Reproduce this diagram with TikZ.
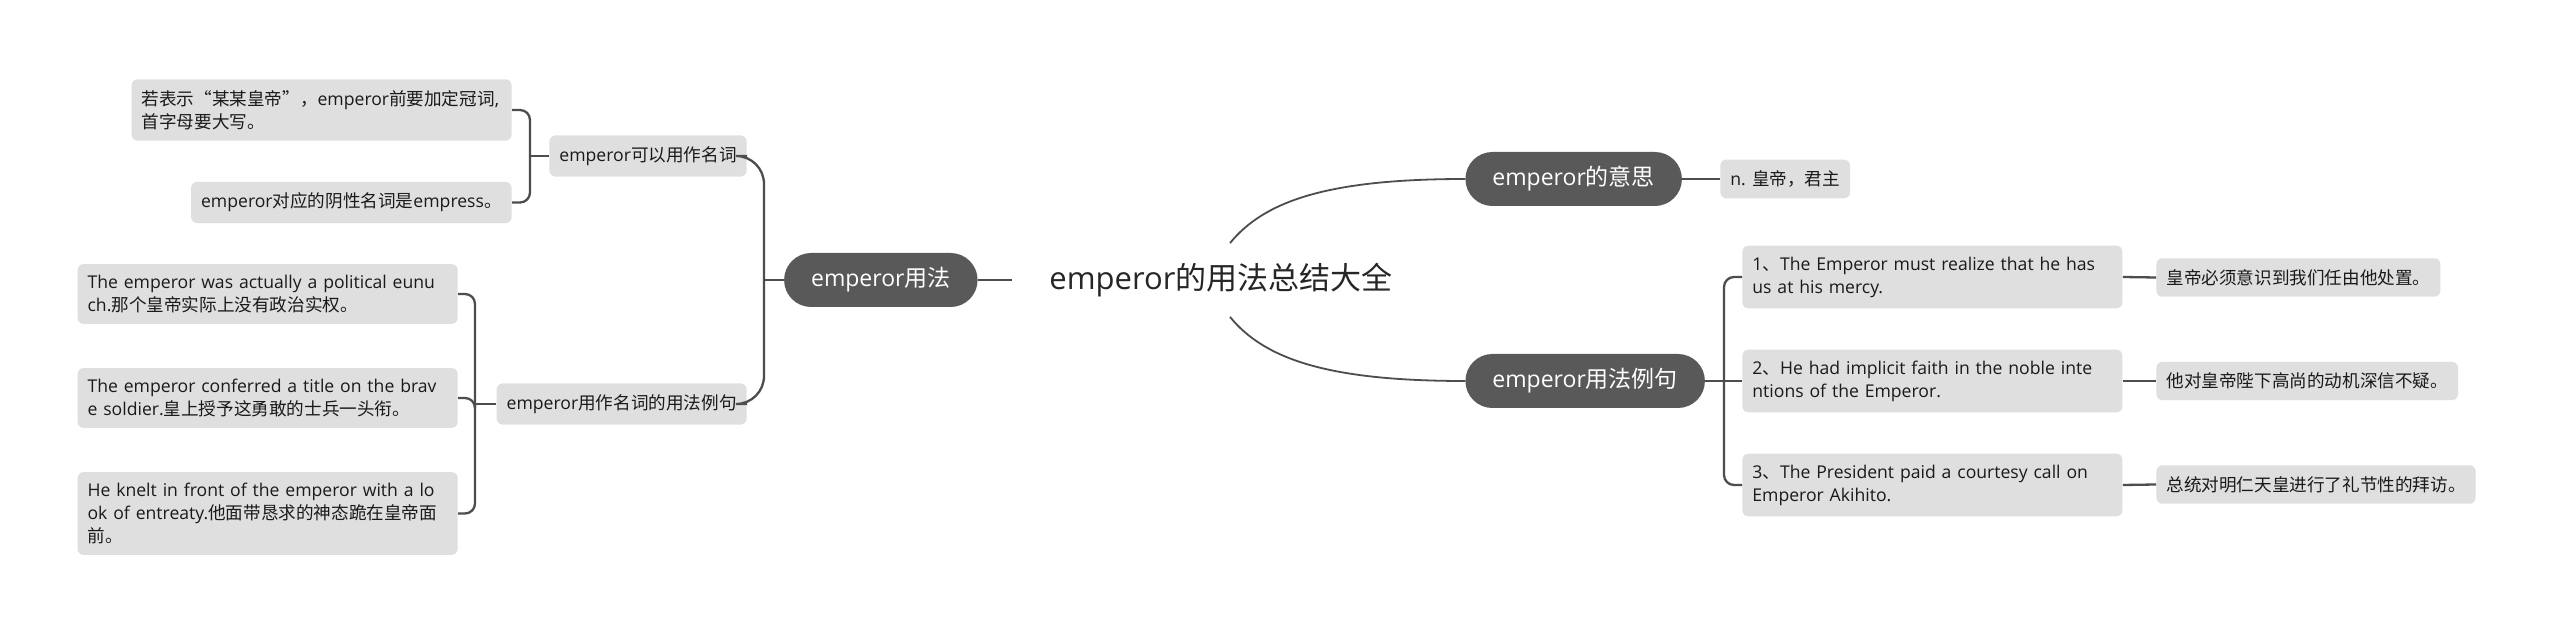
\documentclass[tikz,border=0pt]{standalone}
\usepackage{fontspec}
\setmainfont{Open Sans}
\newfontfamily\zhfont{Noto Sans CJK SC}
\newcommand{\zh}[1]{{\zhfont #1}}

\definecolor{mapLeafFill}{RGB}{223,223,223}
\definecolor{mapTopicFill}{RGB}{89,89,89}
\definecolor{mapLine}{RGB}{77,77,77}
\definecolor{mapText}{RGB}{26,26,26}
\definecolor{mapTitle}{RGB}{38,38,38}

\begin{document}
\begin{tikzpicture}[x=.5pt,y=-.5pt,
      title/.style={font=\fontsize{15.5}{18}\selectfont, text=mapTitle,
        inner xsep=18.5pt, minimum height=36.5pt},
      topic/.style={font=\fontsize{11.5}{14}\selectfont, text=white,
        fill=mapTopicFill, rounded corners=13.5pt, inner xsep=13.5pt,
        minimum height=27pt},
      leaf/.style={font=\fontsize{8.8}{11.5}\selectfont, text=mapText,
        fill=mapLeafFill, rounded corners=3pt, inner xsep=5pt,
        inner ysep=5.5pt},
      note/.style={leaf, text width=180pt, align=left},
      link/.style={draw=mapLine, line width=1.15pt},
      curve/.style={draw=mapLine, line width=.9pt},
      bracket/.style={link, rounded corners=5pt}]
      \useasboundingbox (0,0) rectangle (2560,635);
      \fill[white] (0,0) rectangle (2560,635);

      % centre
      \node[title] (root) at (1221,280) {emperor\zh{的用法总结大全}};

      % left branch
      \node[topic, anchor=east] (usage) at (978,280) {emperor\zh{用法}};
      \node[leaf, anchor=east] (noun) at (747,156) {emperor\zh{可以用作名词}};
      \node[leaf, anchor=east] (nounex) at (747,404)
        {emperor\zh{用作名词的用法例句}};

      \node[note, anchor=east] (article) at (512,110)
        {\zh{若表示“某某皇帝”，}emperor\zh{前要加定冠词},\\
         \zh{首字母要大写。}};
      \node[leaf, anchor=east] (feminine) at (512,202.5)
        {emperor\zh{对应的阴性名词是}empress\zh{。}};

      \node[note, anchor=east] (eunuch) at (458,294)
        {The emperor was actually a political eunu\\
         ch.\zh{那个皇帝实际上没有政治实权。}};
      \node[note, anchor=east] (soldier) at (458,398)
        {The emperor conferred a title on the brav\\
         e soldier.\zh{皇上授予这勇敢的士兵一头衔。}};
      \node[note, anchor=east] (knelt) at (458,513.5)
        {He knelt in front of the emperor with a lo\\
         ok of entreaty.\zh{他面带恳求的神态跪在皇帝面}\\
         \zh{前。}};

      \draw[link] (root.west) -- (usage.east);
      \coordinate (usageJoin) at (764,280);
      \draw[link] (usage.west) -- (usageJoin);
      \draw[link, rounded corners=14pt] (usageJoin) |- (noun.east);
      \draw[link, rounded corners=14pt] (usageJoin) |- (nounex.east);

      \coordinate (nounJoin) at (530,156);
      \draw[link] (noun.west) -- (nounJoin);
      \draw[bracket] (nounJoin) |- (article.east);
      \draw[bracket] (nounJoin) |- (feminine.east);

      \coordinate (nounexJoin) at (475,404);
      \draw[link] (nounex.west) -- (nounexJoin);
      \draw[bracket] (nounexJoin) |- (eunuch.east);
      \draw[bracket] (nounexJoin) |- (soldier.east);
      \draw[bracket] (nounexJoin) |- (knelt.east);

      % right branch
      \node[topic, anchor=west] (meaning) at (1465,179) {emperor\zh{的意思}};
      \node[leaf, anchor=west] (sense) at (1720,179) {n. \zh{皇帝，君主}};
      \node[topic, anchor=west] (examples) at (1465,381)
        {emperor\zh{用法例句}};

      \node[note, anchor=west] (mercy) at (1742,277)
        {1\zh{、}The Emperor must realize that he has\\
         us at his mercy.};
      \node[note, anchor=west] (faith) at (1742,381)
        {2\zh{、}He had implicit faith in the noble inte\\
         ntions of the Emperor.};
      \node[note, anchor=west] (akihito) at (1742,485)
        {3\zh{、}The President paid a courtesy call on\\
         Emperor Akihito.};

      \node[leaf, anchor=west] (mercyZh) at (2156,277.5)
        {\zh{皇帝必须意识到我们任由他处置。}};
      \node[leaf, anchor=west] (faithZh) at (2156,381)
        {\zh{他对皇帝陛下高尚的动机深信不疑。}};
      \node[leaf, anchor=west] (akihitoZh) at (2156,484.5)
        {\zh{总统对明仁天皇进行了礼节性的拜访。}};

      \draw[curve] ([xshift=4.5pt]root.north) .. controls +(35,-43)
        and +(-135,0) .. (meaning.west);
      \draw[curve] ([xshift=4.5pt]root.south) .. controls +(35,43)
        and +(-135,0) .. (examples.west);
      \draw[link] (meaning.east) -- (sense.west);

      \coordinate (examplesJoin) at (1724,381);
      \draw[link] (examples.east) -- (faith.west);
      \draw[bracket] (examplesJoin) |- (mercy.west);
      \draw[bracket] (examplesJoin) |- (akihito.west);

      \draw[link] (mercy.east) -- (mercyZh.west);
      \draw[link] (faith.east) -- (faithZh.west);
      \draw[link] (akihito.east) -- (akihitoZh.west);
    \end{tikzpicture}
\end{document}
